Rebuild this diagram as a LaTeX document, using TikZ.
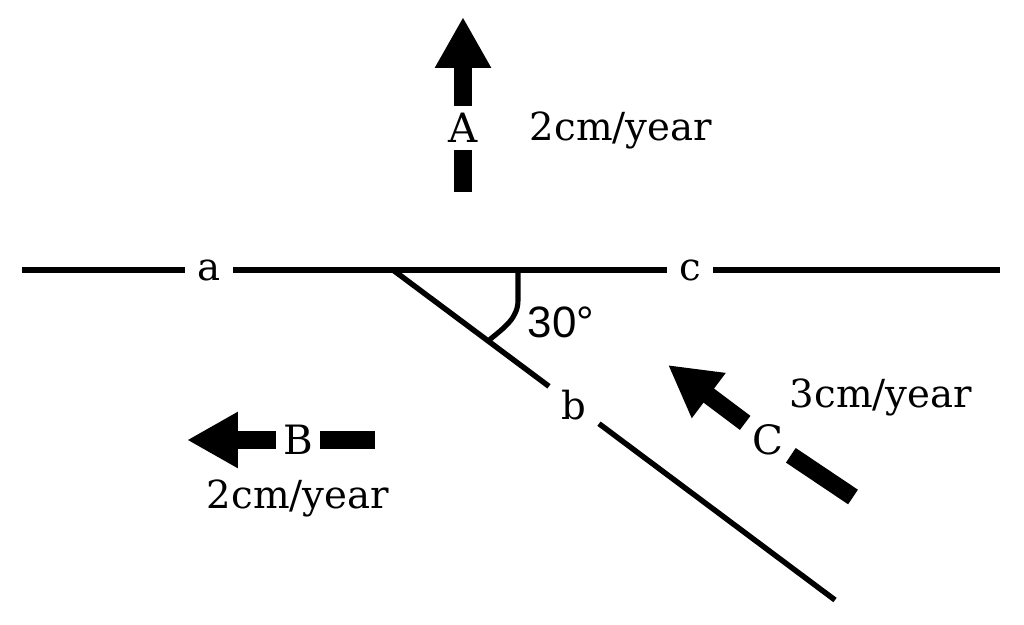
\documentclass[tikz,border=0pt]{standalone}
\usepackage{fontspec}
\setmainfont{DejaVu Serif}
\newfontfamily\anglefont{Liberation Sans}
\usetikzlibrary{arrows.meta}

\begin{document}
\begin{tikzpicture}[x=0.02cm, y=-0.02cm,
    every node/.style={font=\fontsize{22}{26}\selectfont},
    boundary/.style={line width=3.1pt},
    linelabel/.style={inner sep=7pt},
    platelabel/.style={inner sep=4pt, font=\fontsize{23}{27}\selectfont},
    motion/.style={line width=10pt},
    motiontip/.style={motion, -{Triangle[length=29pt, width=30pt]}}]
    \useasboundingbox (0,0) rectangle (1024,625);

    \coordinate (west) at (22,270);
    \coordinate (east) at (1000,270);
    \coordinate (O) at (393,270);
    \coordinate (end) at (835,600);
    \node[linelabel] (a) at (209,270) {a};
    \node[linelabel] (c) at (690,270) {c};
    \node[linelabel] (b) at (574,405) {b};
    \draw[boundary] (west) -- (a) -- (c) -- (east);
    \draw[boundary] (O) -- (b) -- (end);

    \draw[line width=2.9pt] (518,270) -- (518,300) .. controls (518,318) and (505,327) .. (488,341);
    \node[font=\anglefont\fontsize{25}{29}\selectfont] (angle) at (561,322) {30°};

    \coordinate (tipA) at (463,17);
    \coordinate (tailA) at (463,192);
    \node[platelabel] (A) at (463,128) {A};
    \draw[motiontip] (A) -- (tipA);
    \draw[motion] (tailA) -- (A);
    \node (rateA) at (621,130) {2cm/year};

    \coordinate (tipB) at (187,440);
    \coordinate (tailB) at (375,440);
    \node[platelabel] (B) at (298,440) {B};
    \draw[motiontip] (B) -- (tipB);
    \draw[motion] (tailB) -- (B);
    \node (rateB) at (298,498) {2cm/year};

    \coordinate (tipC) at (668,365);
    \coordinate (tailC) at (853,497);
    \node[platelabel] (C) at (768,440) {C};
    \draw[motiontip] (C) -- (tipC);
    \draw[motion] (tailC) -- (C);
    \node (rateC) at (881,397) {3cm/year};
\end{tikzpicture}
\end{document}
